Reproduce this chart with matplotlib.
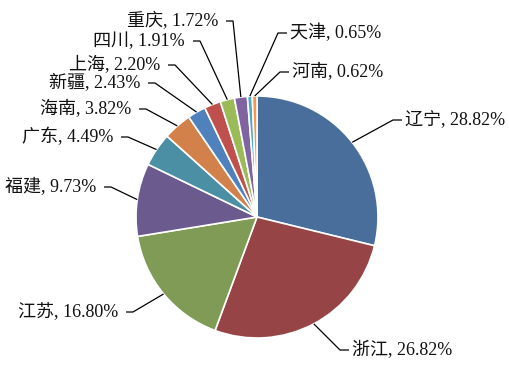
import numpy as np
import matplotlib
matplotlib.use("Agg")
import matplotlib.pyplot as plt

# ── data ──
provinces = ["辽宁", "浙江", "江苏", "福建", "广东", "海南",
             "新疆", "上海", "四川", "重庆", "天津", "河南"]
shares = [28.82, 26.82, 16.80, 9.73, 4.49, 3.82,
          2.43, 2.20, 1.91, 1.72, 0.65, 0.62]

colors = ["#4A6E9B", "#974447", "#7F9B55", "#6A5A8D", "#4A8FA3", "#D3814B",
          "#4F81BD", "#C0504D", "#9BBB59", "#8064A2", "#4BACC6", "#F79646"]

# ── label layout (pixel coords, text anchor, side) ──
label_pos = [(405, 120, "L"), (352, 350, "L"), (118, 312, "R"), (96, 187, "R"),
             (113, 137, "R"), (131, 109, "R"), (140, 83, "R"), (160, 65, "R"),
             (185, 41, "R"), (218, 21, "R"), (290, 33, "L"), (292, 72, "L")]

FONT = ["Liberation Serif", "Noto Sans CJK SC"]
CX, CY, R = 257, 217, 121

fig = plt.figure(figsize=(5.10, 3.68), dpi=100)
ax = fig.add_axes([0, 0, 1, 1])

# y axis is flipped below, so counterclock in data space = clockwise on screen
wedges, _ = ax.pie(shares, colors=colors, center=(CX, CY), radius=R,
                   startangle=-90, counterclock=True,
                   wedgeprops=dict(edgecolor="white", linewidth=1.2))

ax.set_xlim(0, 510)
ax.set_ylim(368, 0)
ax.set_aspect("equal")
ax.axis("off")

for w, name, val, (tx, ty, side) in zip(wedges, provinces, shares, label_pos):
    mid = np.deg2rad((w.theta1 + w.theta2) / 2)
    px, py = CX + R * np.cos(mid), CY + R * np.sin(mid)
    if side == "L":
        xs = [px, tx - 12, tx - 3]
        ha = "left"
    else:
        xs = [px, tx + 15, tx + 8]
        ha = "right"
    ax.plot(xs, [py, ty, ty], color="black", lw=0.9, solid_capstyle="butt")
    ax.text(tx, ty, f"{name}, {val:.2f}%", ha=ha, va="center",
            fontsize=13, family=FONT, color="#111111")

fig.savefig("out.png", dpi=100, facecolor="white")
